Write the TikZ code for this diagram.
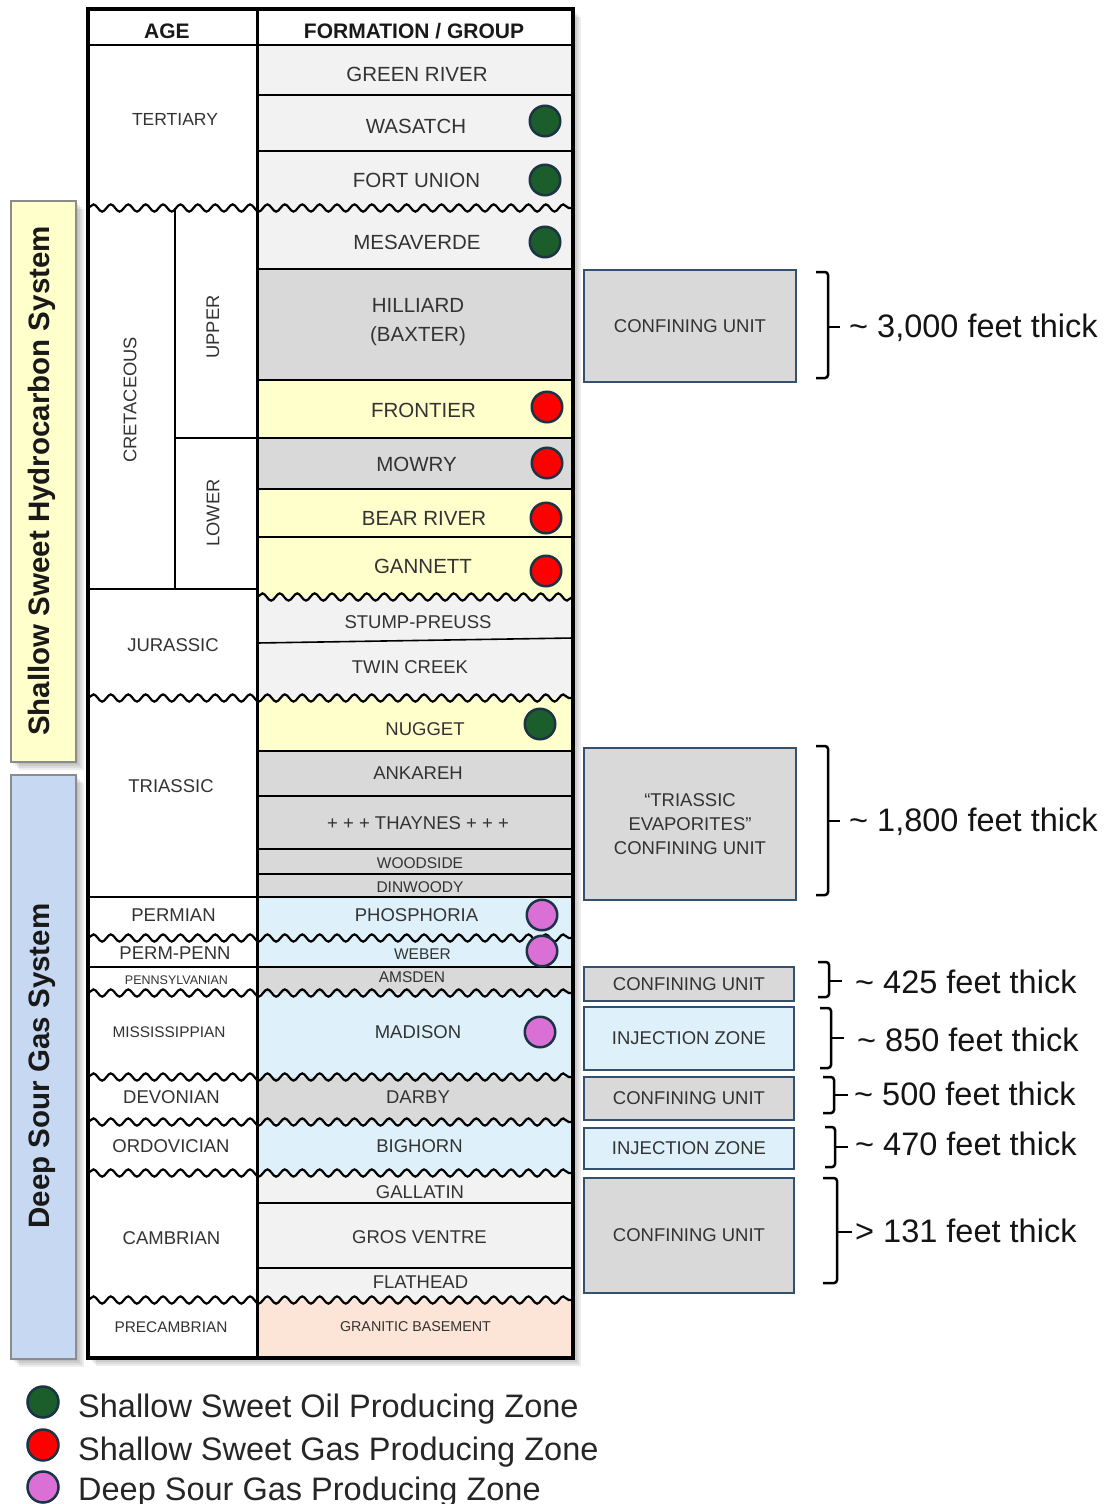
\documentclass[tikz,border=0pt]{standalone}
\usepackage{fontspec}
\setmainfont{Liberation Sans}
\usetikzlibrary{decorations.pathmorphing}
\definecolor{lg}{HTML}{F2F2F2}
\definecolor{mg}{HTML}{D9D9D9}
\definecolor{yl}{HTML}{FFFFCC}
\definecolor{bl}{HTML}{DEF1FA}
\definecolor{pc}{HTML}{FCE4D6}
\definecolor{sy}{HTML}{FFFFCC}
\definecolor{sb}{HTML}{C6D8F2}
\definecolor{oilc}{HTML}{1B5E2B}
\definecolor{gasc}{HTML}{FF0000}
\definecolor{sourc}{HTML}{DA70D6}
\definecolor{rimc}{HTML}{1C3345}
\definecolor{txt}{HTML}{333333}
\definecolor{boxb}{HTML}{34506E}
\definecolor{sideb}{HTML}{8C8C8C}
\begin{document}
\begin{tikzpicture}[x=1pt,y=-1pt,
  fsz/.style={font=\fontsize{#1}{#1}\selectfont},
  lab/.style={inner sep=0pt, text=txt},
  fm/.style={lab, fsz=18.5},
  fmb/.style={lab, fsz=20.5},
  fms/.style={lab, fsz=15.5},
  hd/.style={inner sep=0pt, text=black!90, font=\fontsize{21}{21}\selectfont\bfseries},
  cell/.style={line width=1.6pt, black},
  wavy/.style={line width=2.2pt, black, decorate, decoration={snake, segment length=17.4pt, amplitude=3.6pt}},
  zone/.style={circle, draw=rimc, line width=2.5pt, minimum size=30.5pt, inner sep=0pt},
  oil/.style={zone, fill=oilc},
  gas/.style={zone, fill=gasc},
  sour/.style={zone, fill=sourc},
  rb/.style={draw=boxb, line width=1.5pt, text=txt, inner sep=0pt, minimum width=#1, font=\fontsize{18.5}{24}\selectfont, align=center},
  rb/.default=212pt,
  brace/.style={line width=2.5pt, black, rounded corners=3pt},
  thick/.style={anchor=west, inner sep=0pt, text=black!92, font=\fontsize{32.5}{32.5}\selectfont},
  legt/.style={anchor=base west, inner sep=0pt, text=black!85, font=\fontsize{32.5}{32.5}\selectfont},
  side/.style={rotate=90, inner sep=0pt, text=black!90, font=\fontsize{29.5}{29.5}\selectfont\bfseries},
  shad/.style={fill=black, opacity=0.07}
]
\useasboundingbox (0,0) rectangle (1114,1504);
\fill[white] (0,0) rectangle (1114,1504);

% shadows
\foreach \d in {2,4,6,8}{
  \fill[shad] (88+\d,9+\d) rectangle (573+\d,1358+\d);
  \fill[shad] (11+\d,201+\d) rectangle (76+\d,762+\d);
  \fill[shad] (11+\d,775+\d) rectangle (76+\d,1359+\d);
}

% side bars
\node[draw=sideb, line width=1.8pt, fill=sy, minimum width=65pt, minimum height=561pt, inner sep=0pt] (shbox) at (43.5,481.5) {};
\node[draw=sideb, line width=1.8pt, fill=sb, minimum width=65pt, minimum height=584pt, inner sep=0pt] (dsbox) at (43.5,1067) {};
\node[side] (shtxt) at (42,481) {Shallow Sweet Hydrocarbon System};
\node[side] (dstxt) at (42,1066) {Deep Sour Gas System};

% table fills
\fill[white] (88,9) rectangle (573,45);
\fill[white] (88,45) rectangle (257,1358);
\foreach \a/\b/\c in {45/95/lg, 95/151/lg, 151/208/lg, 208/269/lg, 269/380/mg, 380/438/yl, 438/489/mg, 489/537/yl, 537/597/yl, 597/698/lg, 698/751/yl, 751/897/mg, 897/967/bl, 967/993/mg, 993/1077/bl, 1077/1122/mg, 1122/1173/bl, 1173/1300/lg, 1300/1358/pc}
  \fill[\c] (257,\a) rectangle (573,\b);

% straight lines
\draw[cell] (88,45) -- (573,45);
\foreach \y in {95,151,269,380,438,489,537,751,796,849,874,1203,1268}
  \draw[cell] (257,\y) -- (573,\y);
\draw[cell] (88,897) -- (573,897);
\draw[cell] (88,967) -- (573,967);
\draw[cell] (88,589) -- (257,589);
\draw[cell] (175,208) -- (175,589);
\draw[cell] (175,438) -- (257,438);
\draw[cell] (257,643) -- (573,638);

% unconformities
\foreach \y in {208,698,938,993,1077,1122,1173,1300}
  \draw[wavy] (88,\y) -- (573,\y);
\draw[wavy] (257,597) -- (573,597);

% frame
\draw[line width=3pt] (257,9) -- (257,1358);
\draw[line width=3.5pt] (88,9) rectangle (573,1358);

% header
\node[hd] (hage) at (167,31) {AGE};
\node[hd] (hfm) at (414,31) {FORMATION / GROUP};

% ages
\node[lab, fsz=17.5] (a1) at (175,119) {TERTIARY};
\node[lab, fsz=18.3, rotate=90] (a2) at (130,400) {CRETACEOUS};
\node[lab, fsz=18.3, rotate=90] (a3) at (213,327) {UPPER};
\node[lab, fsz=18.3, rotate=90] (a4) at (213,513) {LOWER};
\node[fm] (a5) at (173,645) {JURASSIC};
\node[fm] (a6) at (171,786) {TRIASSIC};
\node[fm] (a7) at (173.5,915) {PERMIAN};
\node[fm] (a8) at (175,953) {PERM-PENN};
\node[lab, fsz=12.5] (a9) at (176.5,980) {PENNSYLVANIAN};
\node[lab, fsz=15.4] (a10) at (169,1032) {MISSISSIPPIAN};
\node[fm] (a11) at (171.5,1097) {DEVONIAN};
\node[fm] (a12) at (171,1146) {ORDOVICIAN};
\node[fm] (a13) at (171.5,1238) {CAMBRIAN};
\node[lab, fsz=15.4] (a14) at (171,1327) {PRECAMBRIAN};

% formations
\node[fmb] (f1) at (417,74) {GREEN RIVER};
\node[fmb] (f2) at (416,126) {WASATCH};
\node[fmb] (f3) at (416.5,180) {FORT UNION};
\node[fmb] (f4) at (417,242) {MESAVERDE};
\node[fmb] (f5) at (418,305) {HILLIARD};
\node[fmb] (f5b) at (418,336) {(BAXTER)};
\node[fmb] (f6) at (423.5,410.5) {FRONTIER};
\node[fmb] (f7) at (416.5,464) {MOWRY};
\node[fmb] (f8) at (424,518) {BEAR RIVER};
\node[fmb] (f9) at (423,566) {GANNETT};
\node[fm] (f10) at (418,622) {STUMP-PREUSS};
\node[fm] (f11) at (410,667) {TWIN CREEK};
\node[fm] (f12) at (425,729) {NUGGET};
\node[fm] (f13) at (418,773) {ANKAREH};
\node[fm] (f14) at (418,823) {+ + + THAYNES + + +};
\node[fms] (f15) at (420,863) {WOODSIDE};
\node[fms] (f16) at (420,887) {DINWOODY};
\node[fm] (f17) at (416.5,915) {PHOSPHORIA};
\node[fms] (f18) at (422.5,954) {WEBER};
\node[fms] (f19) at (412,977) {AMSDEN};
\node[fm] (f20) at (418,1032) {MADISON};
\node[fm] (f21) at (418,1097) {DARBY};
\node[fm] (f22) at (419.5,1146) {BIGHORN};
\node[fm] (f23) at (420,1192) {GALLATIN};
\node[fm] (f24) at (419.5,1237) {GROS VENTRE};
\node[fm] (f25) at (420.5,1282) {FLATHEAD};
\node[lab, fsz=14.3] (f26) at (415.5,1327) {GRANITIC BASEMENT};

% producing zone markers
\node[oil] (z1) at (545,121) {};
\node[oil] (z2) at (545,180) {};
\node[oil] (z3) at (545,242) {};
\node[gas] (z4) at (547,407) {};
\node[gas] (z5) at (547,463) {};
\node[gas] (z6) at (546,518) {};
\node[gas] (z7) at (546,571) {};
\node[oil] (z8) at (540,724) {};
\node[sour] (z9) at (542,915) {};
\node[sour] (z10) at (542,951) {};
\node[sour] (z11) at (540,1032) {};

% right boxes
\node[rb, fill=mg, minimum height=112pt] (r1) at (690,326) {CONFINING UNIT};
\node[rb, fill=mg, minimum height=152pt] (r2) at (690,824) {\textquotedblleft TRIASSIC\\EVAPORITES\textquotedblright\\CONFINING UNIT};
\node[rb=210pt, fill=mg, minimum height=34pt] (r3) at (689,984) {CONFINING UNIT};
\node[rb=210pt, fill=bl, minimum height=63pt] (r4) at (689,1038.5) {INJECTION ZONE};
\node[rb=210pt, fill=mg, minimum height=43pt] (r5) at (689,1098.5) {CONFINING UNIT};
\node[rb=210pt, fill=bl, minimum height=41pt] (r6) at (689,1148.5) {INJECTION ZONE};
\node[rb=210pt, fill=mg, minimum height=115pt] (r7) at (689,1235.5) {CONFINING UNIT};

% braces
\draw[brace] (816,272) -- (828,272) -- (828,378) -- (816,378);
\draw[brace] (828,327) -- (840,327);
\draw[brace] (816,746) -- (828,746) -- (828,895) -- (816,895);
\draw[brace] (828,821) -- (840,821);
\draw[brace] (818,962) -- (829,962) -- (829,997) -- (818,997);
\draw[brace] (829,981) -- (842,981);
\draw[brace] (820,1008) -- (831,1008) -- (831,1068) -- (820,1068);
\draw[brace] (831,1038) -- (844,1038);
\draw[brace] (823,1077) -- (834,1077) -- (834,1113) -- (823,1113);
\draw[brace] (834,1095) -- (848,1095);
\draw[brace] (825,1127) -- (835,1127) -- (835,1167) -- (825,1167);
\draw[brace] (835,1147) -- (848,1147);
\draw[brace] (823,1178) -- (837,1178) -- (837,1283) -- (823,1283);
\draw[brace] (837,1232) -- (852,1232);

% thickness labels
\node[thick] (t1) at (849,328) {\textasciitilde{} 3,000 feet thick};
\node[thick] (t2) at (849,822) {\textasciitilde{} 1,800 feet thick};
\node[thick] (t3) at (855,982) {\textasciitilde{} 425 feet thick};
\node[thick] (t4) at (857,1040) {\textasciitilde{} 850 feet thick};
\node[thick] (t5) at (854,1094) {\textasciitilde{} 500 feet thick};
\node[thick] (t6) at (855,1144) {\textasciitilde{} 470 feet thick};
\node[thick] (t7) at (855,1231) {> 131 feet thick};

% legend
\node[oil, minimum size=31pt] (l1) at (43,1402) {};
\node[gas, minimum size=31pt] (l2) at (43,1445) {};
\node[sour, minimum size=31pt] (l3) at (43,1487) {};
\node[legt] (lt1) at (78,1417) {Shallow Sweet Oil Producing Zone};
\node[legt] (lt2) at (78,1460) {Shallow Sweet Gas Producing Zone};
\node[legt] (lt3) at (78,1500) {Deep Sour Gas Producing Zone};
\end{tikzpicture}
\end{document}
